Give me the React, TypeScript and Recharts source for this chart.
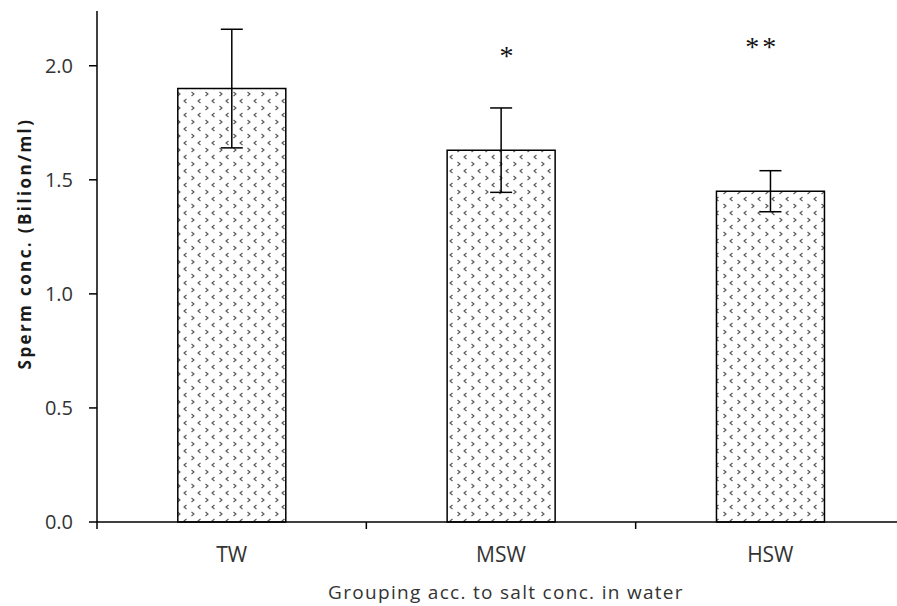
import React from "react";
import { BarChart, Bar, XAxis, YAxis, ErrorBar, ReferenceDot } from "recharts";

const groups = ["TW", "MSW", "HSW"];
const spermConc = [1.9, 1.63, 1.45];
const stdErr = [0.26, 0.185, 0.09];
const sigMarks = ["", "*", "**"];
const sigLevel = [0, 2.06, 2.1];
const yTicks = [0, 0.5, 1.0, 1.5, 2.0];

const data = groups.map((name, i) => ({ name, conc: spermConc[i], err: stdErr[i] }));

const FONT = "'Open Sans', sans-serif";
const TEXT = "#333";

// category label + Excel-style tick marks on the category boundaries
function GroupTick(props: any) {
  const { x, y, payload, index, width, visibleTicksCount } = props;
  const half = width && visibleTicksCount ? width / visibleTicksCount / 2 : 0;
  const isLast = index === visibleTicksCount - 1;
  return (
    <g>
      {half ? (
        <line x1={x - half} x2={x - half} y1={y} y2={y + 7} stroke="#000" strokeWidth={1.5} />
      ) : null}
      {half && isLast ? (
        <line x1={x + half} x2={x + half} y1={y} y2={y + 7} stroke="#000" strokeWidth={1.5} />
      ) : null}
      <text x={x} y={y} dy={40} textAnchor="middle" fill={TEXT} fontSize={21} fontFamily={FONT}>
        {payload.value}
      </text>
    </g>
  );
}

export default function App() {
  return (
    <div
      style={{
        position: "absolute",
        left: 0,
        top: 0,
        width: 897,
        height: 606,
        overflow: "hidden",
        background: "#fff",
      }}
    >
      <BarChart
        width={920}
        height={606}
        data={data}
        margin={{ top: 11, right: 15, bottom: 0, left: 0 }}
        barCategoryGap="30%"
      >
        <defs>
          <pattern id="chev" patternUnits="userSpaceOnUse" width={14} height={14}>
            <rect width={14} height={14} fill="#fff" />
            <polyline points="4.5,1 2,3 4.5,5" fill="none" stroke="#555" strokeWidth={1.1} />
            <polyline points="9.5,8 12,10 9.5,12" fill="none" stroke="#555" strokeWidth={1.1} />
          </pattern>
        </defs>

        <XAxis
          dataKey="name"
          type="category"
          height={84}
          interval={0}
          tickSize={0}
          tickMargin={0}
          tickLine={false}
          axisLine={{ stroke: "#000", strokeWidth: 1.5 }}
          tick={<GroupTick />}
          label={{
            value: "Grouping acc. to salt conc. in water",
            position: "insideBottom",
            offset: 7,
            dx: 5,
            style: { fontFamily: FONT, fontSize: 19, fill: TEXT, letterSpacing: 1.3 },
          }}
        />
        <YAxis
          type="number"
          domain={[0, 2.24]}
          ticks={yTicks}
          width={97}
          tickSize={8}
          tickMargin={16}
          interval={0}
          tickFormatter={(v: number) => v.toFixed(1)}
          axisLine={{ stroke: "#000", strokeWidth: 1.5 }}
          tickLine={{ stroke: "#000", strokeWidth: 1.5 }}
          tick={{ fontFamily: FONT, fontSize: 20, fill: TEXT }}
          label={{
            value: "Sperm conc. (Bilion/ml)",
            angle: -90,
            position: "center",
            dx: -24,
            dy: -23,
            style: {
              fontFamily: FONT,
              fontSize: 17,
              fontWeight: 700,
              fill: "#1a1a1a",
              letterSpacing: 2.4,
            },
          }}
        />

        <Bar dataKey="conc" fill="url(#chev)" stroke="#000" strokeWidth={1.5} isAnimationActive={false}>
          <ErrorBar dataKey="err" width={11} stroke="#000" strokeWidth={1.5} />
        </Bar>

        {groups.map((g, i) =>
          sigMarks[i] ? (
            <ReferenceDot
              key={g}
              x={g}
              y={sigLevel[i]}
              r={1}
              fill="none"
              stroke="none"
              label={{
                value: sigMarks[i],
                position: "center",
                dx: i === 1 ? 7 : -8,
                dy: 3,
                style: {
                  fontFamily: "'Liberation Serif', serif",
                  fontSize: 28,
                  fill: "#111",
                  letterSpacing: 3,
                },
              }}
            />
          ) : null
        )}
      </BarChart>
    </div>
  );
}
